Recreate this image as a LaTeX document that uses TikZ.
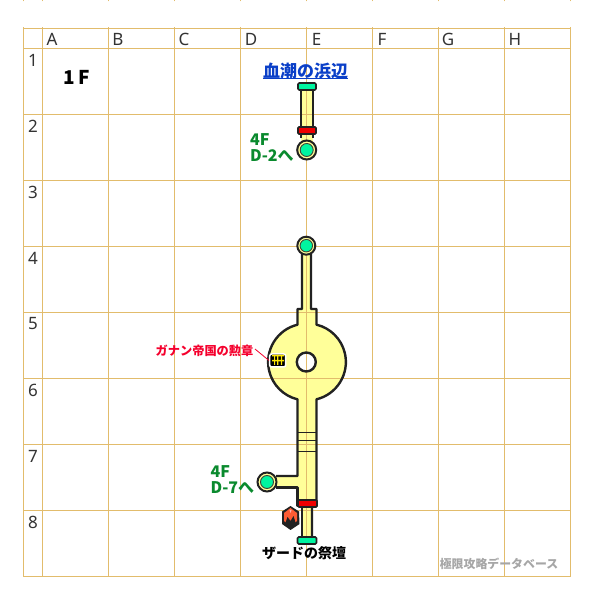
\documentclass[tikz,border=0pt]{standalone}
\usepackage{fontspec}
\setmainfont{Noto Sans}
\newfontfamily\cjk{Noto Sans CJK JP}
\definecolor{gridc}{HTML}{E2BC6C}
\definecolor{roomc}{HTML}{FFFF99}
\definecolor{wallc}{HTML}{222222}
\definecolor{stairc}{HTML}{00F5A0}
\definecolor{doorc}{HTML}{F00000}
\definecolor{exitc}{HTML}{0A8A2E}
\definecolor{linkc}{HTML}{0A3FC8}
\definecolor{itemc}{HTML}{F5002D}
\tikzset{
  wall/.style={draw=wallc,line width=2.4pt,line join=round},
  gridline/.style={draw=gridc,line width=1pt},
  headlabel/.style={font=\fontsize{17}{17}\selectfont,text=black!80,inner sep=0pt},
  jpbold/.style={font=\cjk\bfseries\fontsize{#1}{#1}\selectfont,inner sep=0pt},
  exitlabel/.style={font=\cjk\bfseries\fontsize{16}{16}\selectfont,text=exitc,inner sep=0pt,align=left,anchor=north west},
  stairbar/.style={draw=wallc,line width=1.6pt,fill=stairc,rounded corners=1.2pt,inner sep=0pt,minimum width=18pt,minimum height=7pt},
  doorbar/.style={draw=wallc,line width=1.6pt,fill=doorc,rounded corners=1pt,inner sep=0pt,minimum width=18pt,minimum height=7pt},
  warpouter/.style={circle,draw=wallc,line width=2pt,fill=roomc,inner sep=0pt,minimum size=#1},
  warpinner/.style={circle,draw=wallc!85!roomc,line width=0.9pt,fill=stairc,inner sep=0pt,minimum size=#1},
}
\begin{document}
\begin{tikzpicture}[x=1pt,y=1pt]
\useasboundingbox (0,0) rectangle (600,600);
\fill[white] (0,0) rectangle (600,600);
% room fills
\fill[roomc] (301,510) rectangle (313,455);
\fill[roomc] (302,350) -- (302,291) -- (297.5,291) -- (297.5,275.3) arc (103.6:256.4:38.4) -- (297.5,124) -- (270,124) -- (270,112.5) -- (297.5,112.5) -- (297.5,94) -- (302,94) -- (302,60) -- (312,60) -- (312,94) -- (316.5,94) -- (316.5,200.7) arc (-76.4:76.4:38.4) -- (316.5,291) -- (311,291) -- (311,350) -- cycle;
\fill[white] (306.3,238) circle (9.5);
% grid
\foreach \x in {23.5,42.5,108.5,174.5,240.5,306.5,372.5,438.5,504.5,570.5}{
  \draw[gridline] (\x,23.5) -- (\x,572.5);
  \draw[gridline] (\x,598.5) -- (\x,600);
}
\foreach \y in {571.5,551.5,485.5,419.5,353.5,287.5,221.5,155.5,89.5,23.5}{
  \draw[gridline] (23,\y) -- (571,\y);
}
% grid headings
\foreach \t/\x in {A/52,B/118,C/184,D/251,E/316.5,F/382,G/448,H/515}{
  \node[headlabel] at (\x,560.5) {\t};
}
\foreach \t/\y in {1/540,2/474,3/408,4/342,5/276,6/210,7/144,8/78}{
  \node[headlabel] at (33,\y) {\t};
}
% walls
\draw[wall] (301,510) -- (301,462) (313,510) -- (313,462);
\draw[wall] (302,350) -- (302,291) -- (297.5,291) -- (297.5,275.3) arc (103.6:256.4:38.4) -- (297.5,124) -- (276,124);
\draw[wall] (276,112.5) -- (297.5,112.5) -- (297.5,94) -- (302,94) -- (302,60);
\draw[wall] (312,60) -- (312,94) -- (316.5,94) -- (316.5,200.7) arc (-76.4:76.4:38.4) -- (316.5,291) -- (311,291) -- (311,350);
\draw[wall] (306.3,238) circle (9.5);
\draw[draw=wallc,line width=0.7pt] (297.5,168) -- (316.5,168) (297.5,160) -- (316.5,160) (297.5,149) -- (316.5,149);
% warps
\node[warpouter=19pt] (warpA) at (306.7,450) {};
\node[warpinner=13pt] (warpAin) at (306.7,450) {};
\node[warpouter=18pt] (warpB) at (306.3,354.3) {};
\node[warpinner=12.5pt] (warpBin) at (306.3,354.3) {};
\node[warpouter=19pt] (warpC) at (267,118) {};
\node[warpinner=13pt] (warpCin) at (267,118) {};
% bars
\node[stairbar] (stairTop) at (307,513.5) {};
\node[doorbar] (doorTop) at (307,469.5) {};
\node[doorbar,minimum width=19pt] (doorLow) at (307.5,96.5) {};
\node[stairbar,minimum width=19pt] (stairLow) at (307,59.5) {};
% texts
\node[jpbold=17,text=linkc] (title) at (305.5,528.5) {血潮の浜辺};
\draw[linkc,line width=1pt] (title.west |- 0,521) -- (title.east |- 0,521);
\node[jpbold=19,text=black] (floor) at (77,523) {1\,F};
\node[exitlabel] (exitTop) at (250,467) {4F\\D-2へ};
\node[exitlabel] (exitLow) at (210.5,135) {4F\\D-7へ};
\node[jpbold=14,text=black] (altar) at (304,46.5) {ザードの祭壇};
\node[jpbold=12.2,text=itemc,anchor=east] (medal) at (253.5,249.5) {ガナン帝国の勲章};
\node[jpbold=11.9,text=black!35] (mark) at (499,36.5) {極限攻略データベース};
% chest
\node[draw=white,line width=1.5pt,fill=black,rounded corners=2pt,inner sep=0pt,minimum width=16pt,minimum height=13pt] (chest) at (277.7,239.5) {};
\fill[yellow!90!orange] (272,243.5) rectangle (284,245) (272,238.5) rectangle (284,240);
\fill[yellow!90!orange] (274,235) rectangle (275.2,245) (277.2,235) rectangle (278.4,245) (280.8,235) rectangle (282,245);
\coordinate (lead) at (255,251);
\draw[itemc,line width=0.8pt] (lead) -- (chest.west);
% crystal
\node[inner sep=0pt,minimum size=1pt] (crystal) at (290.5,82) {};
\fill[wallc] (290.5,94) -- (299,88.5) -- (299.5,76) -- (290.5,70) -- (282,76) -- (282,88.5) -- cycle;
\fill[red!60!orange!80!white] (290.5,92) -- (297,87) -- (297,79) -- (290.5,74) -- (284,79) -- (284,87) -- cycle;
\fill[wallc] (285,76) -- (287.5,83) -- (290.5,79) -- (293.5,84) -- (296,76) -- (290.5,71) -- cycle;
\fill[red!30!white] (289.5,90) -- (290.5,87) -- (291.5,90) -- cycle;
\end{tikzpicture}
\end{document}
